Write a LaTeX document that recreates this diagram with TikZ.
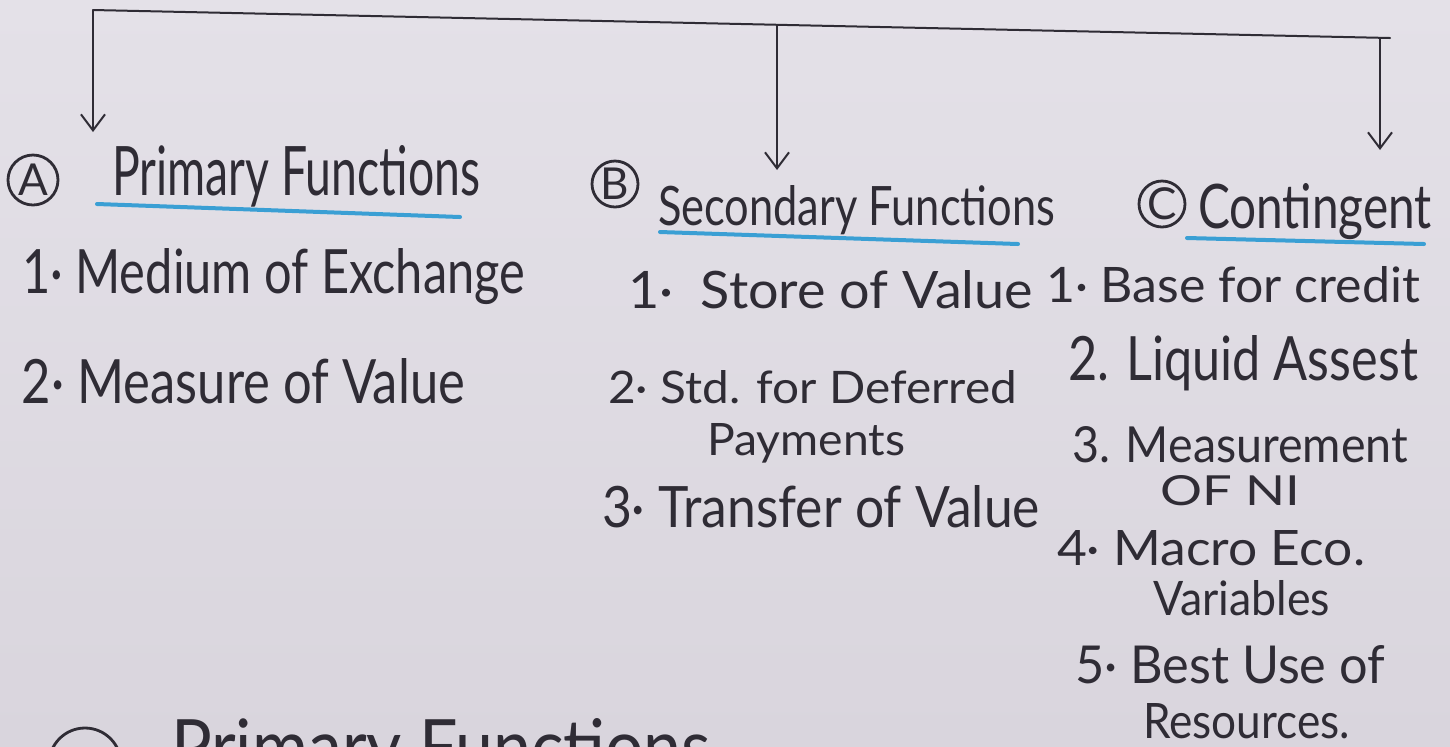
\documentclass[tikz,border=0pt]{standalone}
\usepackage{fontspec}
\setmainfont{Lato}
\usetikzlibrary{arrows.meta}
\definecolor{paper}{HTML}{E4E1E8}
\definecolor{paperlo}{HTML}{D9D5DD}
\definecolor{ink}{HTML}{2F2C35}
\definecolor{pen}{HTML}{3A9FD4}
\newlength\pxu
\setlength\pxu{0.5pt}
% text fitted to a given width and height (in pixel units)
\newcommand\hw[3]{\resizebox{#1\pxu}{#2\pxu}{#3}}
\tikzset{
  txt/.style={anchor=base west, inner sep=0pt, outer sep=0pt, text=ink},
  circ/.style={draw=ink, line width=1.4pt, circle, inner sep=0pt, text=ink,
    font=\fontsize{22}{22}\selectfont},
  link/.style={draw=ink, line width=1pt, line cap=round},
  arr/.style={link, -{Straight Barb[length=8pt, width=12pt, line width=1pt]}},
  uline/.style={draw=pen, line width=2pt, line cap=round},
}
\begin{document}
\begin{tikzpicture}[x=0.5pt, y=-0.5pt]
  % paper
  \shade[top color=paper, bottom color=paperlo] (0,0) rectangle (1450,746);
  \useasboundingbox (0,0) rectangle (1450,746);

  % bracket with three arrows
  \coordinate (tl) at (93,10);
  \coordinate (tm) at (777,25);
  \coordinate (tr) at (1390,38);
  \coordinate (tr2) at (1380,38);
  \coordinate (aA) at (93,132);
  \coordinate (aB) at (777,170);
  \coordinate (aC) at (1380,150);
  \draw[link] (tl) -- (tr);
  \draw[arr] (tl) -- (aA);
  \draw[arr] (tm) -- (aB);
  \draw[arr] (tr2) -- (aC);

  % headings
  \node[circ, minimum size=50\pxu] (cA) at (33,180) {A};
  \node[txt] (hA) at (112,195) {\hw{368}{50}{Primary Functions}};
  \draw[uline] (97,204) -- (460,217);

  \node[circ, minimum size=46\pxu] (cB) at (615,184) {B};
  \node[txt] (hB) at (658,225) {\hw{397}{40}{Secondary Functions}};
  \draw[uline] (660,232) -- (1018,244);

  \node[circ, minimum size=46\pxu] (cC) at (1162,204) {C};
  \node[txt] (hC) at (1198,228) {\hw{234}{45}{Contingent}};
  \draw[uline] (1187,238) -- (1424,244);

  % primary functions
  \node[txt] (a1) at (22,293) {\hw{503}{45}{1· Medium of Exchange}};
  \node[txt] (a2) at (22,403) {\hw{443}{45}{2· Measure of Value}};

  % secondary functions
  \node[txt] (b1) at (628,308) {\hw{405}{38}{1·~~Store of Value}};
  \node[txt] (b2) at (608,403) {\hw{409}{33}{2· Std. for Deferred}};
  \node[txt] (b2b) at (707,455) {\hw{198}{32}{Payments}};
  \node[txt] (b3) at (602,527) {\hw{438}{42}{3· Transfer of Value}};

  % contingent functions
  \node[txt] (c1) at (1046,302) {\hw{374}{36}{1· Base for credit}};
  \node[txt] (c2) at (1068,380) {\hw{350}{45}{2. Liquid Assest}};
  \node[txt] (c3) at (1072,462) {\hw{336}{36}{3. Measurement}};
  \node[txt] (c3b) at (1160,505) {\hw{140}{30}{OF NI}};
  \node[txt] (c4) at (1057,565) {\hw{308}{35}{4· Macro Eco.}};
  \node[txt] (c4b) at (1153,615) {\hw{177}{35}{Variables}};
  \node[txt] (c5) at (1075,683) {\hw{310}{38}{5· Best Use of}};
  \node[txt] (c5b) at (1143,738) {\hw{207}{35}{Resources.}};

  % next heading, running off the bottom edge
  \node[circ, minimum size=72\pxu] (cD) at (85,764) {};
  \node[txt] (hD) at (171,773) {\hw{540}{55}{Primary Functions}};
\end{tikzpicture}
\end{document}
